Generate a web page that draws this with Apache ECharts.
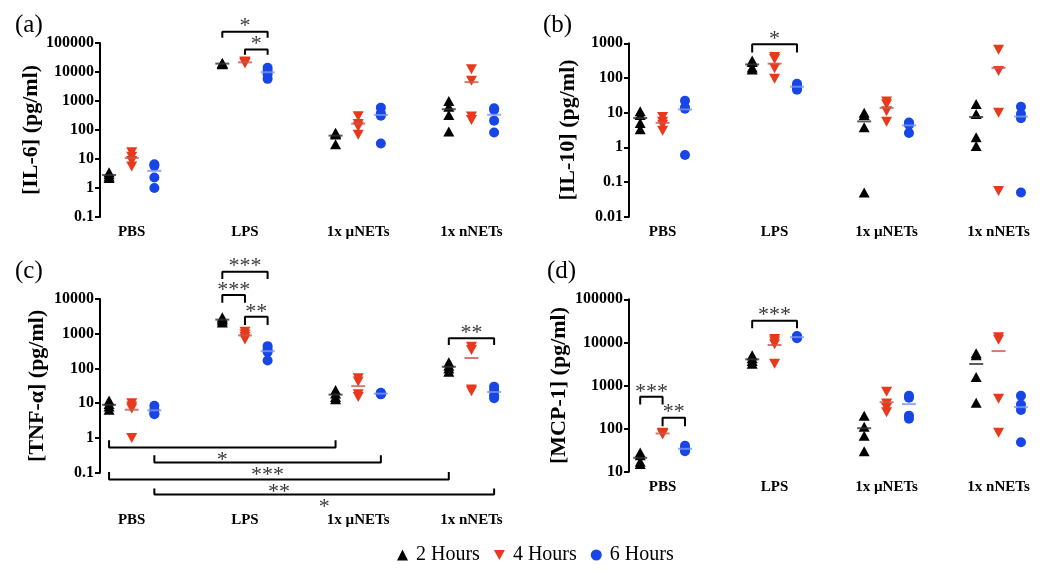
<!DOCTYPE html>
<html><head><meta charset="utf-8">
<script src="https://cdn.jsdelivr.net/npm/echarts@6/dist/echarts.min.js"></script>
<style>html,body{margin:0;padding:0;background:#fff}#c{width:1050px;height:575px}</style>
</head><body><div id="c"></div>
<script>
const categories = ['PBS', 'LPS', '1x µNETs', '1x nNETs'];
const hours = ['2 Hours', '4 Hours', '6 Hours'];

// (a) IL-6, per category: PBS, LPS, µNETs, nNETs
const il6_2h = [[3.5, 3.0, 2.5, 2.2], [20500, 20000, 19000, 18500], [80, 75, 70, 32], [1000, 630, 330, 88]];
const il6_4h = [[17, 12, 8.5, 5.5], [23000, 22000, 21000, 20000], [300, 160, 130, 68], [12400, 5000, 290, 220]];
const il6_6h = [[6.6, 5.8, 2.3, 1.0], [14000, 11000, 8300, 5800], [590, 380, 310, 34], [560, 490, 210, 82]];
const il6_mean_2h = [2.8, 19500, 64, 520];
const il6_mean_4h = [10.8, 21500, 165, 4480];
const il6_mean_6h = [3.9, 9800, 330, 335];

// (b) IL-10
const il10_2h = [[11, 8.5, 5, 3.3], [320, 290, 200, 175], [10, 8.5, 3.8, 0.05], [17.8, 9.1, 1.95, 1.1]];
const il10_4h = [[7.5, 5.5, 4.5, 3], [400, 350, 190, 95], [21, 17.5, 11, 5.5], [650, 158, 10, 0.055]];
const il10_6h = [[22, 14, 13, 0.6], [68, 60, 50, 46], [5.2, 4.8, 4.5, 2.6], [14.8, 9.1, 6.9, 0.05]];
const il10_mean_2h = [7, 246, 5.6, 7.5];
const il10_mean_4h = [5.1, 259, 13.7, 195];
const il10_mean_6h = [12.4, 56, 4.3, 7.7];

// (c) TNF-α
const tnf_2h = [[12, 9.5, 8, 6.5], [3000, 2700, 2400, 2100], [24, 19, 15, 13], [150, 120, 100, 80]];
const tnf_4h = [[10, 8, 7, 1], [1150, 950, 800, 680], [52, 42, 18, 15], [420, 340, 25, 22]];
const tnf_6h = [[8.5, 6.5, 5.2, 4.8], [440, 350, 300, 170], [20, 19, 18.5, 18], [30, 24, 17, 14]];
const tnf_mean_2h = [9, 2550, 17.7, 112];
const tnf_mean_4h = [6.5, 895, 31, 200];
const tnf_mean_6h = [6.25, 315, 18.9, 21];

// (d) MCP-1
const mcp_2h = [[28, 24, 17, 15], [5000, 4300, 3700, 3200], [200, 110, 68, 30], [5600, 5000, 1580, 400]];
const mcp_4h = [[80, 78, 76, 74], [12000, 10500, 9000, 3200], [720, 380, 300, 240], [13200, 11500, 490, 80]];
const mcp_6h = [[40, 35, 32, 30], [14000, 13500, 13000, 12500], [580, 520, 200, 170], [580, 360, 270, 48]];
const mcp_mean_2h = [21, 4050, 102, 3150];
const mcp_mean_4h = [77, 8700, 410, 6300];
const mcp_mean_6h = [34, 13250, 370, 315];

// significance brackets: [group1, hour1, group2, hour2, barValue, tipValue, label]
const il6_sig = [[1, 0, 1, 2, 245000, 152000, '*'], [1, 1, 1, 2, 60000, 39000, '*']];
const il10_sig = [[1, 0, 1, 2, 940, 540, '*']];
const tnf_sig = [
  [1, 0, 1, 2, 61000, 37700, '***'], [1, 0, 1, 1, 13000, 7800, '***'], [1, 1, 1, 2, 3090, 1780, '**'],
  [3, 0, 3, 2, 737, 472, '**'],
  [0, 0, 2, 0, 0.532, 0.865, '*'], [0, 2, 2, 2, 0.197, 0.319, '***'],
  [0, 0, 3, 0, 0.0637, 0.1055, '**'], [0, 2, 3, 2, 0.0236, 0.0351, '*']
];
const mcp_sig = [[0, 0, 0, 1, 546, 363, '***'], [0, 1, 0, 2, 179, 114, '**'], [1, 0, 1, 2, 32000, 21400, '***']];

const panels = [
  { name: '[IL-6] (pg/ml)', data: [il6_2h, il6_4h, il6_6h], means: [il6_mean_2h, il6_mean_4h, il6_mean_6h], sig: il6_sig,
    min: 0.1, max: 100000, grid: { left: 100, top: 43, width: 407.7, height: 174 }, xmin: 0.6, nameGap: 57, labelMargin: 8, letter: '(a)', lx: 15, ly: 13 },
  { name: '[IL-10] (pg/ml)', data: [il10_2h, il10_4h, il10_6h], means: [il10_mean_2h, il10_mean_4h, il10_mean_6h], sig: il10_sig,
    min: 0.01, max: 1000, grid: { left: 629, top: 43.3, width: 405.4, height: 173.4 }, xmin: 0.5, nameGap: 50, labelMargin: 8, letter: '(b)', lx: 543, ly: 13 },
  { name: '[TNF-α] (pg/ml)', data: [tnf_2h, tnf_4h, tnf_6h], means: [tnf_mean_2h, tnf_mean_4h, tnf_mean_6h], sig: tnf_sig,
    min: 0.1, max: 10000, grid: { left: 100, top: 299, width: 407.7, height: 173.7 }, xmin: 0.6, nameGap: 52, labelMargin: 40, letter: '(c)', lx: 15, ly: 259 },
  { name: '[MCP-1] (pg/ml)', data: [mcp_2h, mcp_4h, mcp_6h], means: [mcp_mean_2h, mcp_mean_4h, mcp_mean_6h], sig: mcp_sig,
    min: 10, max: 100000, grid: { left: 629, top: 299.3, width: 405.4, height: 172.4 }, xmin: 0.5, nameGap: 59, labelMargin: 8, letter: '(d)', lx: 547, ly: 259 }
];

const FONT = '"Liberation Serif", "Times New Roman", serif';
const colors = ['#000000', '#e8391d', '#1846e6'];
const meanColors = ['#333333', '#c95a4c', '#7b96ee'];
const downTri = 'path://M0,0L10,0L5,9Z';
const symbols = ['triangle', downTri, 'circle'];
const pos = (g, h) => 5 * g + h + 1;

const grids = [], xAxes = [], yAxes = [], series = [], graphics = [];
panels.forEach((p, pi) => {
  grids.push(p.grid);
  graphics.push({ type: 'text', left: p.lx, top: p.ly, silent: true, style: { text: p.letter, font: '25px ' + FONT, fill: '#000' } });
  xAxes.push({
    type: 'value', gridIndex: pi, min: p.xmin, max: 18.6,
    axisLine: { show: false, onZero: false }, axisTick: { show: false }, splitLine: { show: false },
    axisLabel: { customValues: [2, 7, 12, 17], formatter: v => categories[Math.round((v - 2) / 5)] || '',
      margin: p.labelMargin, fontFamily: FONT, fontWeight: 'bold', fontSize: 15, color: '#000' }
  });
  yAxes.push({
    type: 'log', logBase: 10, gridIndex: pi, min: p.min, max: p.max,
    axisLine: { show: true, onZero: false, lineStyle: { color: '#000', width: 2 } },
    axisTick: { show: true, length: 5, lineStyle: { color: '#000', width: 2 } },
    splitLine: { show: false },
    axisLabel: { formatter: v => String(+(+v).toPrecision(3)), margin: 6, fontFamily: FONT, fontWeight: 'bold', fontSize: 16, color: '#000' },
    name: p.name, nameLocation: 'middle', nameGap: p.nameGap,
    nameTextStyle: { fontFamily: FONT, fontWeight: 'bold', fontSize: 22, color: '#000' }
  });
  p.data.forEach((arr, h) => {
    const d = [];
    arr.forEach((vals, g) => vals.forEach(v => d.push([pos(g, h), v])));
    series.push({
      type: 'scatter', name: hours[h], xAxisIndex: pi, yAxisIndex: pi, data: d,
      symbol: symbols[h], symbolSize: h === 2 ? 10 : [11, 10], itemStyle: { color: colors[h], opacity: 1 }, z: 3
    });
  });
  p.means.forEach((arr, h) => {
    series.push({
      type: 'scatter', name: 'mean' + h, xAxisIndex: pi, yAxisIndex: pi,
      data: arr.map((v, g) => [pos(g, h), v]),
      symbol: 'rect', symbolSize: [14, 2], itemStyle: { color: meanColors[h] }, z: 4
    });
  });
  // significance brackets as line series, labels as invisible-symbol scatter labels
  p.sig.forEach(s => {
    const x1 = pos(s[0], s[1]), x2 = pos(s[2], s[3]);
    series.push({
      type: 'line', name: 'sig', xAxisIndex: pi, yAxisIndex: pi, clip: false, z: 5,
      symbol: 'none', showSymbol: false, lineStyle: { color: '#000', width: 2 },
      data: [[x1, s[5]], [x1, s[4]], [x2, s[4]], [x2, s[5]]]
    });
    const above = s[5] < s[4];
    series.push({
      type: 'scatter', name: 'sigLabel', xAxisIndex: pi, yAxisIndex: pi, clip: false, z: 6,
      symbolSize: 0, itemStyle: { color: 'rgba(0,0,0,0)' },
      label: { show: true, position: 'inside', formatter: s[6], offset: [0, above ? -5 : 13],
        fontFamily: FONT, fontSize: 22, color: '#000' },
      data: [[(x1 + x2) / 2, s[4]]]
    });
  });
});

const chart = echarts.init(document.getElementById('c'), null, { renderer: 'canvas' });
chart.setOption({
  backgroundColor: '#fff',
  animation: false,
  graphic: graphics,
  legend: {
    left: 392, top: 540, itemGap: 14, itemWidth: 11, itemHeight: 11,
    textStyle: { fontFamily: FONT, fontSize: 20, color: '#000', padding: [0, 0, 0, 3] },
    data: [
      { name: '2 Hours', icon: 'triangle', itemStyle: { color: colors[0] } },
      { name: '4 Hours', icon: downTri, itemStyle: { color: colors[1] } },
      { name: '6 Hours', icon: 'circle', itemStyle: { color: colors[2] } }
    ]
  },
  grid: grids, xAxis: xAxes, yAxis: yAxes, series: series
});
</script></body></html>
